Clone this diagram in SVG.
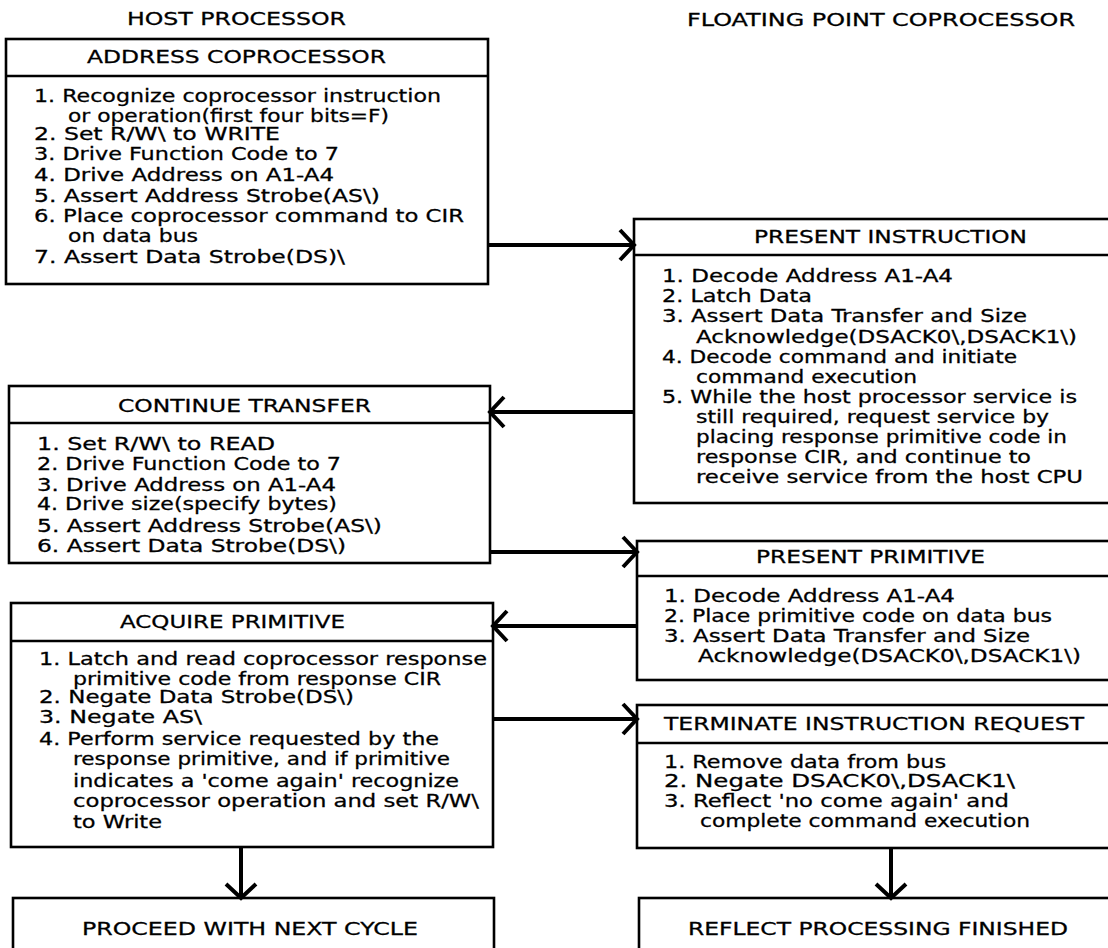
<svg xmlns="http://www.w3.org/2000/svg" width="1108" height="948" viewBox="0 0 1108 948">
<style>
text{font-family:"DejaVu Sans","Liberation Sans",Arial,sans-serif;font-size:18.5px;fill:#000;stroke:#000;stroke-width:0.3px}
.box{fill:none;stroke:#000;stroke-width:2.6}
.div{stroke:#000;stroke-width:2.6}
.conn{fill:none;stroke:#000;stroke-width:4}
</style>
<defs>
<marker id="chev" markerUnits="userSpaceOnUse" viewBox="-20 -20 40 40" markerWidth="40" markerHeight="40" refX="0" refY="0" orient="auto" overflow="visible">
<path d="M -14 -15 L 0 0 L -14 15" fill="none" stroke="#000" stroke-width="4" stroke-linejoin="miter"/>
</marker>
</defs>
<rect width="1108" height="948" fill="#fff"/>
<g id="titles">
<text x="127" y="25" textLength="219" lengthAdjust="spacingAndGlyphs">HOST PROCESSOR</text>
<text x="687" y="26" textLength="388" lengthAdjust="spacingAndGlyphs">FLOATING POINT COPROCESSOR</text>
</g>
<g id="address-coprocessor">
<rect class="box" x="6" y="39" width="482" height="245"/>
<line class="div" x1="6" y1="76" x2="488" y2="76"/>
<text x="87" y="63" textLength="299" lengthAdjust="spacingAndGlyphs">ADDRESS COPROCESSOR</text>
<text x="34" y="102" textLength="407" lengthAdjust="spacingAndGlyphs">1. Recognize coprocessor instruction</text>
<text x="68" y="122" textLength="321" lengthAdjust="spacingAndGlyphs">or operation(first four bits=F)</text>
<text x="34" y="140" textLength="246" lengthAdjust="spacingAndGlyphs">2. Set R/W\ to WRITE</text>
<text x="34" y="160" textLength="305" lengthAdjust="spacingAndGlyphs">3. Drive Function Code to 7</text>
<text x="34" y="181" textLength="300" lengthAdjust="spacingAndGlyphs">4. Drive Address on A1-A4</text>
<text x="34" y="202" textLength="346" lengthAdjust="spacingAndGlyphs">5. Assert Address Strobe(AS\)</text>
<text x="34" y="222" textLength="430" lengthAdjust="spacingAndGlyphs">6. Place coprocessor command to CIR</text>
<text x="68" y="242" textLength="130" lengthAdjust="spacingAndGlyphs">on data bus</text>
<text x="34" y="263" textLength="311" lengthAdjust="spacingAndGlyphs">7. Assert Data Strobe(DS)\</text>
</g>
<g id="present-instruction">
<rect class="box" x="634" y="219" width="490" height="284"/>
<line class="div" x1="634" y1="255" x2="1124" y2="255"/>
<text x="754" y="243" textLength="273" lengthAdjust="spacingAndGlyphs">PRESENT INSTRUCTION</text>
<text x="662" y="282" textLength="291" lengthAdjust="spacingAndGlyphs">1. Decode Address A1-A4</text>
<text x="662" y="302" textLength="150" lengthAdjust="spacingAndGlyphs">2. Latch Data</text>
<text x="662" y="322" textLength="365" lengthAdjust="spacingAndGlyphs">3. Assert Data Transfer and Size</text>
<text x="696" y="343" textLength="381" lengthAdjust="spacingAndGlyphs">Acknowledge(DSACK0\,DSACK1\)</text>
<text x="662" y="363" textLength="355" lengthAdjust="spacingAndGlyphs">4. Decode command and initiate</text>
<text x="696" y="383" textLength="221" lengthAdjust="spacingAndGlyphs">command execution</text>
<text x="662" y="403" textLength="415" lengthAdjust="spacingAndGlyphs">5. While the host processor service is</text>
<text x="696" y="423" textLength="353" lengthAdjust="spacingAndGlyphs">still required, request service by</text>
<text x="696" y="443" textLength="371" lengthAdjust="spacingAndGlyphs">placing response primitive code in</text>
<text x="696" y="463" textLength="335" lengthAdjust="spacingAndGlyphs">response CIR, and continue to</text>
<text x="696" y="483" textLength="387" lengthAdjust="spacingAndGlyphs">receive service from the host  CPU</text>
</g>
<g id="continue-transfer">
<rect class="box" x="9" y="386" width="481" height="177"/>
<line class="div" x1="9" y1="423" x2="490" y2="423"/>
<text x="118" y="412" textLength="253" lengthAdjust="spacingAndGlyphs">CONTINUE TRANSFER</text>
<text x="37" y="450" textLength="238" lengthAdjust="spacingAndGlyphs">1. Set R/W\ to READ</text>
<text x="37" y="470" textLength="304" lengthAdjust="spacingAndGlyphs">2. Drive Function Code to 7</text>
<text x="37" y="491" textLength="299" lengthAdjust="spacingAndGlyphs">3. Drive Address on A1-A4</text>
<text x="37" y="510" textLength="300" lengthAdjust="spacingAndGlyphs">4. Drive size(specify bytes)</text>
<text x="37" y="532" textLength="345" lengthAdjust="spacingAndGlyphs">5. Assert Address Strobe(AS\)</text>
<text x="37" y="552" textLength="309" lengthAdjust="spacingAndGlyphs">6. Assert Data Strobe(DS\)</text>
</g>
<g id="present-primitive">
<rect class="box" x="637" y="541" width="487" height="139"/>
<line class="div" x1="637" y1="576" x2="1124" y2="576"/>
<text x="756" y="563" textLength="229" lengthAdjust="spacingAndGlyphs">PRESENT PRIMITIVE</text>
<text x="664" y="602" textLength="291" lengthAdjust="spacingAndGlyphs">1. Decode Address A1-A4</text>
<text x="664" y="622" textLength="388" lengthAdjust="spacingAndGlyphs">2. Place primitive code on data bus</text>
<text x="664" y="642" textLength="366" lengthAdjust="spacingAndGlyphs">3. Assert Data Transfer and Size</text>
<text x="698" y="662" textLength="383" lengthAdjust="spacingAndGlyphs">Acknowledge(DSACK0\,DSACK1\)</text>
</g>
<g id="acquire-primitive">
<rect class="box" x="11" y="603" width="482" height="244"/>
<line class="div" x1="11" y1="641" x2="493" y2="641"/>
<text x="120" y="628" textLength="225" lengthAdjust="spacingAndGlyphs">ACQUIRE PRIMITIVE</text>
<text x="39" y="665" textLength="448" lengthAdjust="spacingAndGlyphs">1. Latch and read coprocessor response</text>
<text x="73" y="685" textLength="368" lengthAdjust="spacingAndGlyphs">primitive code from response CIR</text>
<text x="39" y="703" textLength="315" lengthAdjust="spacingAndGlyphs">2. Negate Data Strobe(DS\)</text>
<text x="39" y="723" textLength="163" lengthAdjust="spacingAndGlyphs">3. Negate AS\</text>
<text x="39" y="745" textLength="400" lengthAdjust="spacingAndGlyphs">4. Perform service requested by the</text>
<text x="73" y="765" textLength="377" lengthAdjust="spacingAndGlyphs">response primitive, and if primitive</text>
<text x="73" y="787" textLength="386" lengthAdjust="spacingAndGlyphs">indicates a 'come again' recognize</text>
<text x="73" y="807" textLength="406" lengthAdjust="spacingAndGlyphs">coprocessor operation and set R/W\</text>
<text x="73" y="828" textLength="89" lengthAdjust="spacingAndGlyphs">to Write</text>
</g>
<g id="terminate-instruction-request">
<rect class="box" x="637" y="705" width="487" height="143"/>
<line class="div" x1="637" y1="743" x2="1124" y2="743"/>
<text x="664" y="730" textLength="420" lengthAdjust="spacingAndGlyphs">TERMINATE INSTRUCTION REQUEST</text>
<text x="664" y="768" textLength="282" lengthAdjust="spacingAndGlyphs">1. Remove data from bus</text>
<text x="664" y="787" textLength="351" lengthAdjust="spacingAndGlyphs">2. Negate DSACK0\,DSACK1\</text>
<text x="664" y="807" textLength="345" lengthAdjust="spacingAndGlyphs">3. Reflect 'no come again' and</text>
<text x="700" y="827" textLength="330" lengthAdjust="spacingAndGlyphs">complete command execution</text>
</g>
<g id="proceed-with-next-cycle">
<rect class="box" x="13" y="898" width="481" height="70"/>
<text x="82" y="935" textLength="336" lengthAdjust="spacingAndGlyphs">PROCEED WITH NEXT CYCLE</text>
</g>
<g id="reflect-processing-finished">
<rect class="box" x="639" y="898" width="485" height="70"/>
<text x="688" y="935" textLength="380" lengthAdjust="spacingAndGlyphs">REFLECT PROCESSING FINISHED</text>
</g>
<g id="connectors">
<line class="conn" x1="488" y1="245" x2="634" y2="245" marker-end="url(#chev)"/>
<line class="conn" x1="634" y1="412" x2="490" y2="412" marker-end="url(#chev)"/>
<line class="conn" x1="490" y1="552" x2="637" y2="552" marker-end="url(#chev)"/>
<line class="conn" x1="637" y1="626" x2="493" y2="626" marker-end="url(#chev)"/>
<line class="conn" x1="493" y1="719" x2="637" y2="719" marker-end="url(#chev)"/>
<line class="conn" x1="241" y1="847" x2="241" y2="898" marker-end="url(#chev)"/>
<line class="conn" x1="891" y1="848" x2="891" y2="898" marker-end="url(#chev)"/>
</g>
</svg>
